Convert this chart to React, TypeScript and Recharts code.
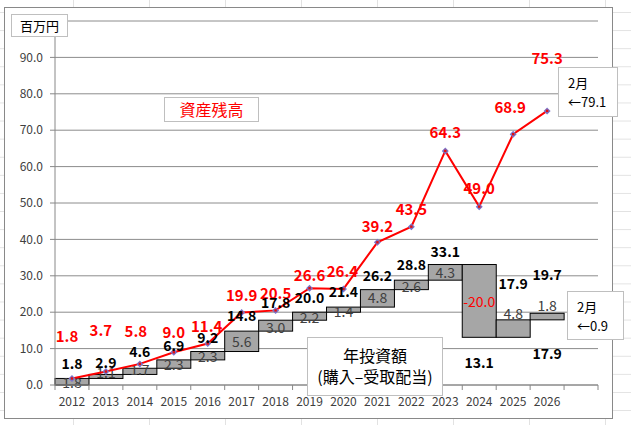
import { Bar, CartesianGrid, ComposedChart, Line, XAxis, YAxis } from 'recharts';

// 年ごとの投資額（購入−受取配当）、その累計、資産残高（百万円）
const YEARS = ['2012', '2013', '2014', '2015', '2016', '2017', '2018', '2019', '2020', '2021', '2022', '2023', '2024', '2025', '2026', ''];
const YEARLY = [1.8, 1.1, 1.7, 2.3, 2.3, 5.6, 3.0, 2.2, 1.4, 4.8, 2.6, 4.3, -20.0, 4.8, 1.8, null];
const CUMULATIVE = [1.8, 2.9, 4.6, 6.9, 9.2, 14.8, 17.8, 20.0, 21.4, 26.2, 28.8, 33.1, 13.1, 17.9, 19.7, null];
const ASSETS = [1.8, 3.7, 5.8, 9.0, 11.4, 19.9, 20.5, 26.6, 26.4, 39.2, 43.5, 64.3, 49.0, 68.9, 75.3, null];
// leftover label sitting under the 2026 bar
const EXTRA = [null, null, null, null, null, null, null, null, null, null, null, null, null, null, 17.9, null];
const Y_TICKS = [0, 10, 20, 30, 40, 50, 60, 70, 80, 90, 100];

// label nudges in px (hand placed in the original)
const ASSET_DY = [-43, -42, -33, -21, -18, -18, -18, -14, -18, -17, -18, -19, -19, -28, -53, 0];
const ASSET_DX = [-5, -5, -4, 0, -1, 0, 0, 0, -1, 0, 0, 0, 0, -3, 0, 0];
const CUM_DY = [-15, -12, -17, -15, -15, -16, -18, -15, -16, -15, -16, -14, 25, -37, -39, 0];
const BAR_DY = [0, -4, -2, 0, 0, 0, 1, 1, 1, -1, 1, 0, 0, -16, -12, 0];

const W = 631;
const H = 425;
const MARGIN = { top: 21, right: 33, bottom: 15, left: 10 };
const Y_AXIS_W = 45;
const PLOT_W = W - MARGIN.left - MARGIN.right - Y_AXIS_W;
const BAND = PLOT_W / YEARS.length;
const FONT = '"Noto Sans CJK JP", "Noto Sans", sans-serif';

const rows = YEARS.map((year, i) => {
  const d = YEARLY[i];
  const c = CUMULATIVE[i];
  if (d == null || c == null) return { year };
  const prev = c - d;
  return {
    year,
    base: Math.min(prev, c),
    delta: Math.abs(d),
    cum: c,
    asset: ASSETS[i],
    extra: EXTRA[i]
  };
});

const idx = (payload: any) => YEARS.indexOf(payload?.year);

function DeltaBar(props: any) {
  const { x, y, width, height, payload } = props;
  const i = idx(payload);
  const v = YEARLY[i];
  if (v == null || !height) return <g />;
  const neg = v < 0;
  return (
    <g>
      <rect x={x} y={y} width={width} height={height} fill='#a6a6a6' stroke='#000' strokeWidth={1} />
      <text
        x={x + width / 2}
        y={y + height / 2 + BAR_DY[i]}
        textAnchor='middle'
        dominantBaseline='central'
        fontFamily={FONT}
        fontSize={14}
        fill={neg ? '#ff0000' : '#404040'}
      >
        {v.toFixed(1)}
      </text>
    </g>
  );
}

function AssetDot(props: any) {
  const { cx, cy, payload } = props;
  const i = idx(payload);
  if (cy == null || ASSETS[i] == null) return <g key={`a${i}`} />;
  return (
    <g key={`a${i}`}>
      <path d={`M${cx},${cy - 3.5}L${cx + 3.5},${cy}L${cx},${cy + 3.5}L${cx - 3.5},${cy}Z`} fill='#7b72c8' />
      <rect x={cx - 1.2} y={cy - 1.2} width={2.4} height={2.4} fill='#e01010' />
      <text
        x={cx + ASSET_DX[i]}
        y={cy + ASSET_DY[i]}
        textAnchor='middle'
        dominantBaseline='central'
        fontFamily={FONT}
        fontSize={15}
        fontWeight='bold'
        fill='#ff0000'
      >
        {(ASSETS[i] as number).toFixed(1)}
      </text>
    </g>
  );
}

function CumLabel(props: any) {
  const { cx, cy, payload } = props;
  const i = idx(payload);
  if (cy == null || CUMULATIVE[i] == null) return <g key={`c${i}`} />;
  return (
    <text
      key={`c${i}`}
      x={cx}
      y={cy + CUM_DY[i]}
      textAnchor='middle'
      dominantBaseline='central'
      fontFamily={FONT}
      fontSize={14}
      fontWeight='bold'
      fill='#000'
    >
      {(CUMULATIVE[i] as number).toFixed(1)}
    </text>
  );
}

function ExtraLabel(props: any) {
  const { cx, cy, payload } = props;
  const i = idx(payload);
  if (cy == null || EXTRA[i] == null) return <g key={`e${i}`} />;
  return (
    <text
      key={`e${i}`}
      x={cx}
      y={cy + 33}
      textAnchor='middle'
      dominantBaseline='central'
      fontFamily={FONT}
      fontSize={14}
      fontWeight='bold'
      fill='#000'
    >
      {(EXTRA[i] as number).toFixed(1)}
    </text>
  );
}

function YearTick(props: any) {
  const { x, y, payload, index } = props;
  const last = index === YEARS.length - 1;
  return (
    <g>
      <line x1={x - BAND / 2} x2={x - BAND / 2} y1={y} y2={y + 5} stroke='#888' />
      {last && <line x1={x + BAND / 2} x2={x + BAND / 2} y1={y} y2={y + 5} stroke='#888' />}
      <text x={x} y={y + 21} textAnchor='middle' fontFamily={FONT} fontSize={12} fill='#404040'>
        {payload.value}
      </text>
    </g>
  );
}

const box: React.CSSProperties = {
  position: 'absolute',
  background: '#fff',
  border: '1px solid #bfbfbf',
  boxSizing: 'border-box',
  fontFamily: FONT,
  color: '#000'
};

export default function App() {
  return (
    <div
      style={{
        position: 'relative',
        width: W,
        height: H,
        overflow: 'hidden',
        backgroundColor: '#fff',
        backgroundImage:
          'linear-gradient(to right, #e2e2e2 1px, transparent 1px), linear-gradient(to bottom, #e2e2e2 1px, transparent 1px)',
        backgroundSize: '76px 100%, 100% 18.1px',
        backgroundPosition: '73px 0, 0 12px'
      }}
    >
      <style>{'body{margin:0}'}</style>
      <div
        style={{
          position: 'absolute',
          left: 4,
          top: 7,
          width: 609,
          height: 412,
          border: '1px solid #898989',
          boxSizing: 'border-box',
          background: '#fff'
        }}
      />
      <div style={{ position: 'absolute', left: 0, top: 0 }}>
        <ComposedChart width={W} height={H} data={rows} margin={MARGIN} barCategoryGap={0} barGap={0}>
          <CartesianGrid vertical={false} stroke='#8c8c8c' />
          <XAxis
            dataKey='year'
            interval={0}
            tickLine={false}
            tickSize={0}
            tickMargin={0}
            height={25}
            axisLine={{ stroke: '#888' }}
            tick={<YearTick />}
          />
          <YAxis
            domain={[0, 100]}
            ticks={Y_TICKS}
            width={Y_AXIS_W}
            tickSize={5}
            tickMargin={7}
            axisLine={{ stroke: '#888' }}
            tickLine={{ stroke: '#888' }}
            tick={{ fontSize: 12, fill: '#404040', fontFamily: FONT }}
            tickFormatter={(v: number) => (v === 100 ? '' : v.toFixed(1))}
          />
          <Bar dataKey='base' stackId='w' fill='transparent' isAnimationActive={false} />
          <Bar dataKey='delta' stackId='w' shape={(p: any) => <DeltaBar {...p} />} isAnimationActive={false} />
          <Line
            dataKey='asset'
            stroke='#ff0000'
            strokeWidth={2}
            dot={(p: any) => <AssetDot {...p} />}
            activeDot={false}
            isAnimationActive={false}
          />
          <Line
            dataKey='cum'
            stroke='none'
            dot={(p: any) => <CumLabel {...p} />}
            activeDot={false}
            isAnimationActive={false}
          />
          <Line
            dataKey='extra'
            stroke='none'
            dot={(p: any) => <ExtraLabel {...p} />}
            activeDot={false}
            isAnimationActive={false}
          />
        </ComposedChart>
      </div>
      <div style={{ ...box, left: 11, top: 14, width: 57, height: 23, fontSize: 13, lineHeight: '21px', paddingLeft: 8 }}>
        百万円
      </div>
      <div
        style={{
          ...box,
          left: 164,
          top: 97,
          width: 95,
          height: 25,
          fontSize: 16,
          lineHeight: '23px',
          textAlign: 'center',
          color: '#ff0000'
        }}
      >
        資産残高
      </div>
      <div
        style={{
          ...box,
          left: 307,
          top: 337,
          width: 136,
          height: 59,
          fontSize: 16,
          lineHeight: '21px',
          textAlign: 'center',
          paddingTop: 7
        }}
      >
        年投資額
        <br />
        (購入–受取配当)
      </div>
      <div style={{ ...box, left: 558, top: 67, width: 60, height: 50, fontSize: 13, lineHeight: '19px', padding: '5px 0 0 9px' }}>
        2月
        <br />
        ←79.1
      </div>
      <div style={{ ...box, left: 567, top: 291, width: 57, height: 49, fontSize: 13, lineHeight: '19px', padding: '5px 0 0 9px' }}>
        2月
        <br />
        ←0.9
      </div>
    </div>
  );
}
